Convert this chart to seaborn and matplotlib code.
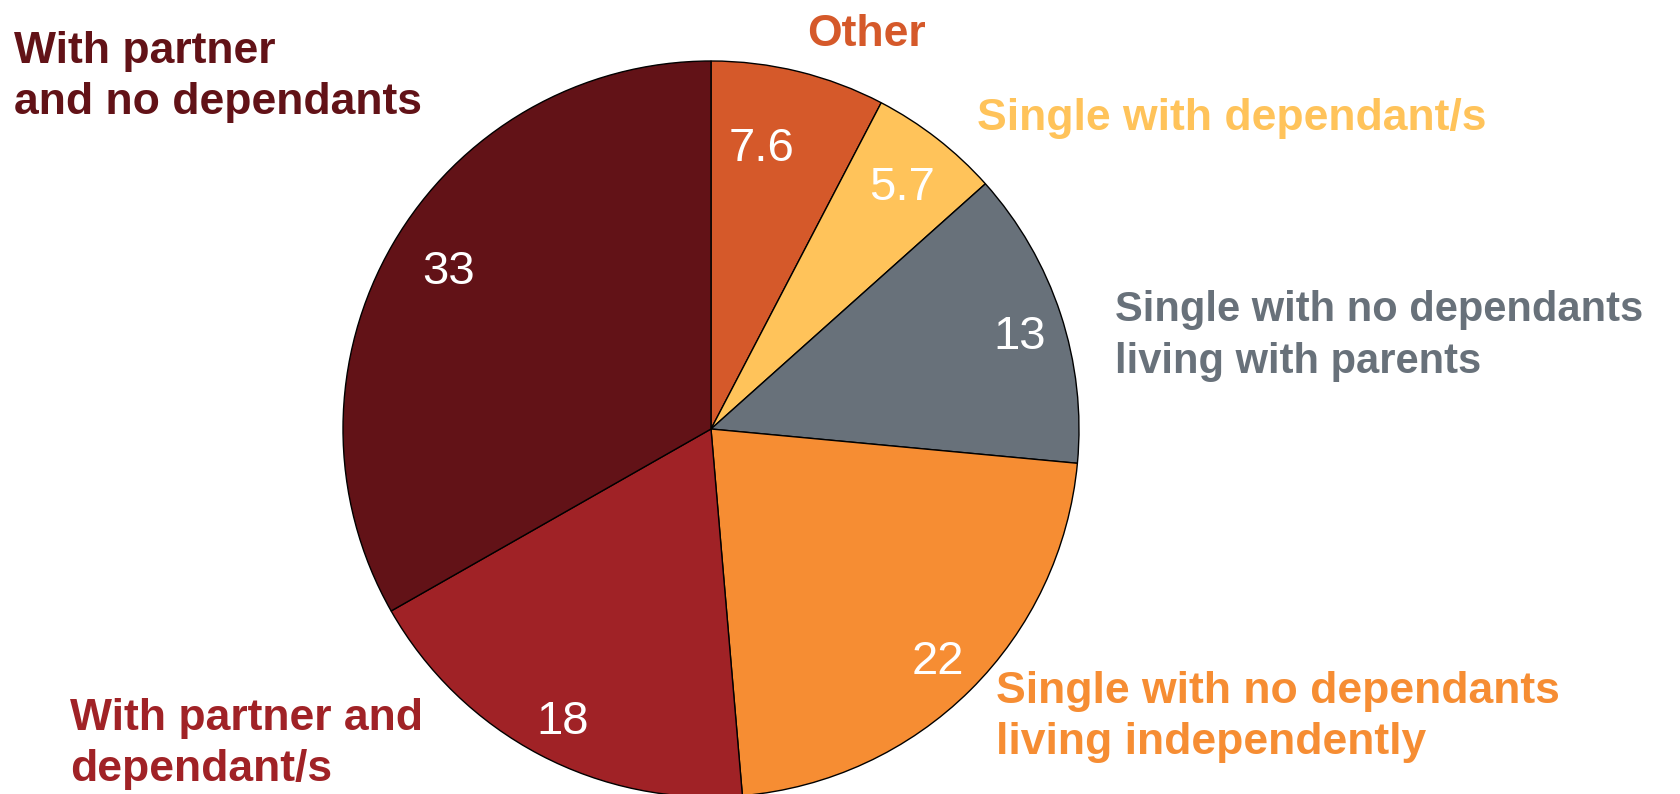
import numpy as np
import matplotlib
matplotlib.use('Agg')
import matplotlib.pyplot as plt
import seaborn as sns

# Data (clockwise from 12 o'clock)
categories = ['Other',
              'Single with dependant/s',
              'Single with no dependants\nliving with parents',
              'Single with no dependants\nliving independently',
              'With partner and\ndependant/s',
              'With partner\nand no dependants']
values = [7.6, 5.7, 13, 22, 18, 33]
value_labels = ['7.6', '5.7', '13', '22', '18', '33']
colors = ['#D5592A', '#FFC35A', '#68717A', '#F68D33', '#A02226', '#621217']

sns.set_theme(style='white')
plt.rcParams['font.family'] = ['Liberation Sans', 'DejaVu Sans']

W, H = 1680, 794
fig = plt.figure(figsize=(W / 100, H / 100), dpi=100)

# pie centre (711, 429) px, radius 368 px
cx, cy, r = 711, 429, 368
ax = fig.add_axes([(cx - r) / W, (H - cy - r) / H, 2 * r / W, 2 * r / H])

wedges, _ = ax.pie(values, colors=colors, startangle=90, counterclock=False,
                   radius=1, wedgeprops=dict(edgecolor='black', linewidth=1),
                   normalize=True)
ax.set_xlim(-1, 1)
ax.set_ylim(-1, 1)
ax.set_aspect('equal')
ax.axis('off')

# value labels inside the slices (radius, angle nudge in degrees)
label_r = [0.787, 0.847, 0.879, 0.874, 0.882, 0.837]
label_da = [3.7, 0, -0.9, 0, 0.5, -1.5]
for w, txt, rr, da in zip(wedges, value_labels, label_r, label_da):
    ang = np.deg2rad((w.theta1 + w.theta2) / 2 + da)
    ax.annotate(txt, (rr * np.cos(ang), rr * np.sin(ang)),
                xytext=(0, -12), textcoords='offset points',
                color='white', fontsize=34, ha='center', va='baseline')

# category labels around the pie (pixel positions, top-left)
label_pos = [(866, 14, 'center'), (977, 98, 'left'), (1115, 290, 'left'),
             (996, 671, 'left'), (70, 698, 'left'), (14, 31, 'left')]
label_size = [32, 32, 30, 32, 32, 32]
for cat, col, (x, y, ha), fs in zip(categories, colors, label_pos, label_size):
    fig.text(x / W, 1 - y / H, cat, color=col, fontsize=fs,
             fontweight='bold', ha=ha, va='top', linespacing=1.4 * 30 / fs)

fig.savefig('out.png', dpi=100)
